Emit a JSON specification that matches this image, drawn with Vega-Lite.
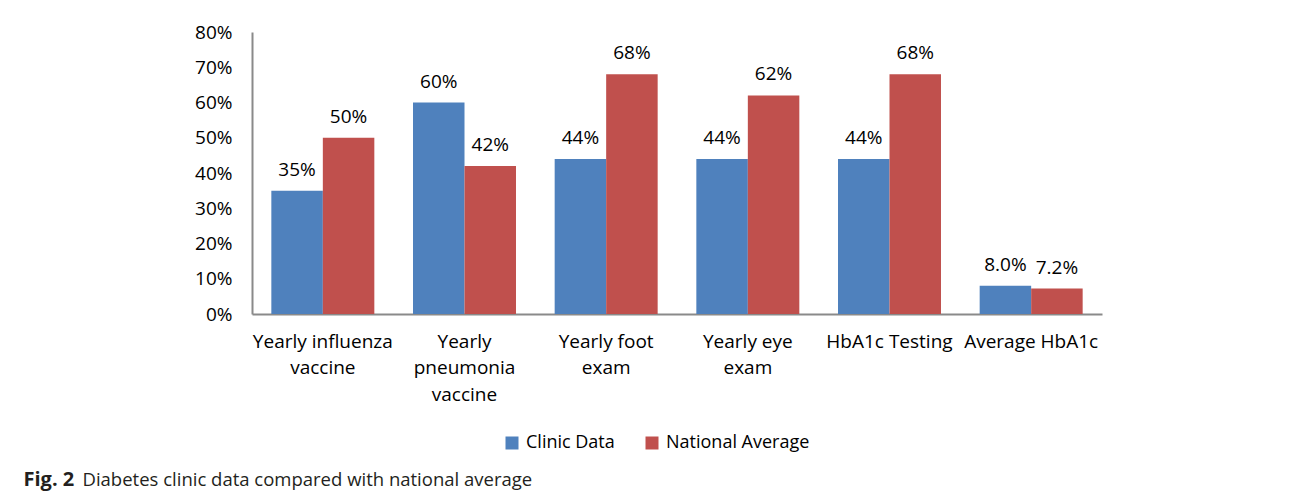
{
  "$schema": "https://vega.github.io/schema/vega-lite/v6.json",
  "autosize": "none",
  "width": 850,
  "height": 282,
  "padding": {"left": 252, "top": 32, "right": 187, "bottom": 184},
  "background": "white",
  "config": {
    "view": {"stroke": null},
    "font": "Open Sans",
    "axis": {"labelFont": "Open Sans", "labelFontSize": 19, "labelColor": "#000000", "grid": false, "ticks": false, "tickSize": 0, "domainColor": "#8a8a8a", "domainWidth": 2},
    "legend": {"labelFont": "Open Sans", "labelFontSize": 18, "labelColor": "#000000"}
  },
  "data": {
    "values": [
      {"measure": "Yearly influenza vaccine", "series": "Clinic Data", "value": 0.35, "label": "35%"},
      {"measure": "Yearly influenza vaccine", "series": "National Average", "value": 0.50, "label": "50%"},
      {"measure": "Yearly pneumonia vaccine", "series": "Clinic Data", "value": 0.60, "label": "60%"},
      {"measure": "Yearly pneumonia vaccine", "series": "National Average", "value": 0.42, "label": "42%"},
      {"measure": "Yearly foot exam", "series": "Clinic Data", "value": 0.44, "label": "44%"},
      {"measure": "Yearly foot exam", "series": "National Average", "value": 0.68, "label": "68%"},
      {"measure": "Yearly eye exam", "series": "Clinic Data", "value": 0.44, "label": "44%"},
      {"measure": "Yearly eye exam", "series": "National Average", "value": 0.62, "label": "62%"},
      {"measure": "HbA1c Testing", "series": "Clinic Data", "value": 0.44, "label": "44%"},
      {"measure": "HbA1c Testing", "series": "National Average", "value": 0.68, "label": "68%"},
      {"measure": "Average HbA1c", "series": "Clinic Data", "value": 0.080, "label": "8.0%"},
      {"measure": "Average HbA1c", "series": "National Average", "value": 0.072, "label": "7.2%"}
    ]
  },
  "encoding": {
    "x": {
      "field": "measure",
      "type": "nominal",
      "sort": null,
      "scale": {"paddingInner": 0.273, "paddingOuter": 0.1365},
      "axis": {
        "title": "Diabetes clinic data compared with national average",
        "titleX": -170,
        "titleY": 171,
        "titleAlign": "left",
        "titleBaseline": "alphabetic",
        "titleFont": "Open Sans",
        "titleFontSize": 18.5,
        "titleFontWeight": "normal",
        "titleColor": "#231f20",
        "labelAngle": 0,
        "labelPadding": 18,
        "labelLineHeight": 26.5,
        "labelBaseline": "top",
        "labelExpr": "datum.label == 'Yearly influenza vaccine' ? ['Yearly influenza', 'vaccine'] : datum.label == 'Yearly pneumonia vaccine' ? ['Yearly', 'pneumonia', 'vaccine'] : datum.label == 'Yearly foot exam' ? ['Yearly foot', 'exam'] : datum.label == 'Yearly eye exam' ? ['Yearly eye', 'exam'] : datum.label"
      }
    },
    "xOffset": {"field": "series", "type": "nominal", "sort": ["Clinic Data", "National Average"]},
    "y": {
      "field": "value",
      "type": "quantitative",
      "scale": {"domain": [0, 0.8], "nice": false},
      "axis": {
        "title": "Fig. 2",
        "titleAngle": 0,
        "titleX": -229,
        "titleY": 453,
        "titleAlign": "left",
        "titleBaseline": "alphabetic",
        "titleFont": "Open Sans",
        "titleFontSize": 20,
        "titleFontWeight": "bold",
        "titleColor": "#231f20",
        "format": ".0%",
        "values": [0, 0.1, 0.2, 0.3, 0.4, 0.5, 0.6, 0.7, 0.8],
        "labelPadding": 20
      }
    }
  },
  "layer": [
    {
      "mark": {"type": "bar"},
      "encoding": {
        "color": {
          "field": "series",
          "type": "nominal",
          "sort": ["Clinic Data", "National Average"],
          "scale": {"domain": ["Clinic Data", "National Average"], "range": ["#4f81bd", "#c0504d"]},
          "legend": {
            "title": null,
            "orient": "none",
            "direction": "horizontal",
            "legendX": 251,
            "legendY": 402,
            "symbolType": "square",
            "symbolSize": 169,
            "symbolStrokeWidth": 0,
            "labelOffset": 5,
            "columnPadding": 28
          }
        }
      }
    },
    {
      "mark": {"type": "text", "baseline": "alphabetic", "dy": -15, "fontSize": 19, "font": "Open Sans", "color": "#000000"},
      "encoding": {"text": {"field": "label"}}
    }
  ]
}
